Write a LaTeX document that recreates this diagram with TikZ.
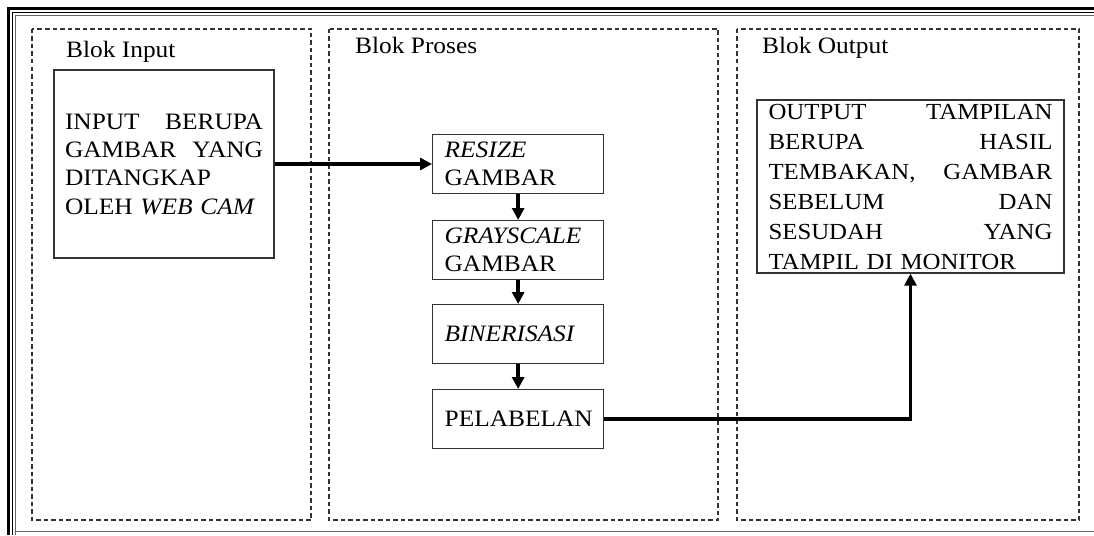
\documentclass[tikz,border=0pt]{standalone}
\usepackage{fontspec}
\setmainfont{Liberation Serif}[FakeStretch=1.08]
\usetikzlibrary{arrows.meta}
\newcommand{\jline}[3]{\makebox[#1]{#2\hfill #3}}
\begin{document}
\begin{tikzpicture}[x=1pt,y=-1pt,
  txt/.style={font=\fontsize{23.5}{28.3}\selectfont},
  otxt/.style={font=\fontsize{23}{30}\selectfont},
  grp/.style={draw=black!80, dash pattern=on 4.5pt off 3pt, line width=1.3pt},
  box/.style={draw=black!80, line width=1.3pt},
  pbox/.style={box, txt, minimum width=171pt, minimum height=59pt, text width=147pt, inner xsep=12pt, inner ysep=0pt, align=left, anchor=north west},
  arr/.style={line width=3.4pt, -{Triangle[length=12pt,width=12pt]}}]
\useasboundingbox (0,0) rectangle (1094,535);
% outer frame
\draw[line width=3pt] (8.5,535) -- (8.5,8.5) -- (1094,8.5);
\draw[line width=1pt] (12.5,535) -- (12.5,12.5) -- (1094,12.5);
\draw[line width=1pt, black!60] (15.5,535) -- (15.5,15.5) -- (1094,15.5);
\draw[line width=1.5pt, black!60] (15.5,531.5) -- (1094,531.5);
% groups
\draw[grp] (32,29) rectangle (311,520);
\draw[grp] (329,29) rectangle (718,520);
\draw[grp] (737,29) rectangle (1079,520);
\node[txt, anchor=base west, inner sep=0pt] (lin) at (66,58) {Blok Input};
\node[txt, anchor=base west, inner sep=0pt] (lpr) at (355,53) {Blok Proses};
\node[txt, anchor=base west, inner sep=0pt] (lout) at (762,53) {Blok Output};
% input box
\node[box, txt, minimum width=220pt, minimum height=188pt, text width=198pt, inner xsep=11pt, align=left] (in) at (164,164)
 {\jline{198pt}{INPUT}{BERUPA}\\ \jline{198pt}{GAMBAR}{YANG}\\ DITANGKAP\\ OLEH \textit{WEB CAM}};
% process boxes
\node[pbox] (r) at (432,134) {\textit{RESIZE}\\ GAMBAR};
\node[pbox] (g) at (432,220) {\textit{GRAYSCALE}\\ GAMBAR};
\node[pbox] (b) at (432,304) {\textit{BINERISASI}};
\node[pbox] (p) at (432,389) {PELABELAN};
% output box
\node[box, otxt, minimum width=307pt, minimum height=173pt, text width=284pt, inner xsep=11.5pt, inner ysep=0pt, align=left] (out) at (910.5,186.5)
 {\jline{284pt}{OUTPUT}{TAMPILAN}\\ \jline{284pt}{BERUPA}{HASIL}\\ \jline{284pt}{TEMBAKAN,}{GAMBAR}\\ \jline{284pt}{SEBELUM}{DAN}\\ \jline{284pt}{SESUDAH}{YANG}\\ TAMPIL DI MONITOR};
% connectors
\draw[arr] (in.east) -- (in.east -| r.west);
\draw[arr] (r.south) -- (g.north);
\draw[arr] (g.south) -- (b.north);
\draw[arr] (b.south) -- (p.north);
\draw[arr] (p.east) -| (out.south);
\end{tikzpicture}
\end{document}
